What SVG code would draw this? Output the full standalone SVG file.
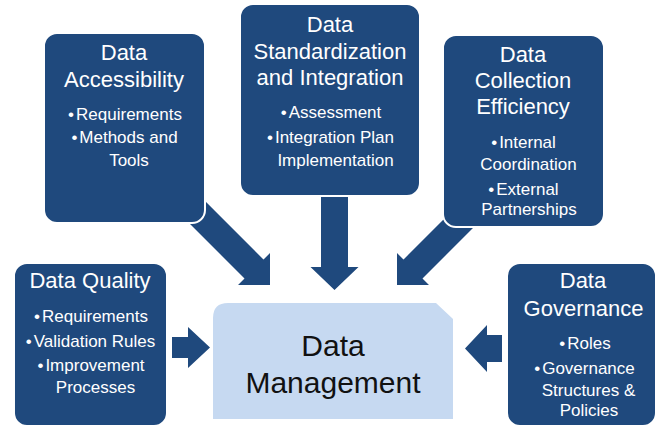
<svg xmlns="http://www.w3.org/2000/svg" width="657" height="427" viewBox="0 0 657 427">
  <style>
    .box { fill: #1F497D; stroke: #ffffff; stroke-width: 2; }
    .arrow { fill: #1F497D; }
    .core { fill: #C6D9F1; }
    text { font-family: "Liberation Sans", Arial, sans-serif; text-anchor: middle; }
    .title { fill: #ffffff; font-size: 22px; }
    .item { fill: #ffffff; font-size: 17px; }
    .core-label { fill: #111111; font-size: 30px; }
  </style>

  <!-- connectors: block arrows pointing into the central node -->
  <g id="connectors">
    <!-- from Data Accessibility (down-right) -->
    <polygon class="arrow" points="192.8,188.8 263.5,259.5 270,253 270,285 238,285 244.5,278.5 173.8,207.8"/>
    <!-- from Data Standardization and Integration (down) -->
    <polygon class="arrow" points="321,190 348,190 348,267 358.5,267 334.5,290 310.5,267 321,267"/>
    <!-- from Data Collection Efficiency (down-left) -->
    <polygon class="arrow" points="493.2,207.8 422.5,278.5 429,285 397,285 397,253 403.5,259.5 474.2,188.8"/>
    <!-- from Data Quality (right) -->
    <polygon class="arrow" points="172,337 188,337 188,327 210,347.5 188,368 188,358 172,358"/>
    <!-- from Data Governance (left) -->
    <polygon class="arrow" points="502,335 487,335 487,325 465,348.5 487,372 487,362 502,362"/>
  </g>

  <g id="data-accessibility">
    <rect class="box" x="44" y="33" width="161" height="190" rx="13"/>
    <text class="title" x="124" y="60">Data</text>
    <text class="title" x="124" y="87">Accessibility</text>
    <text class="item" x="125" y="119.5">•<tspan dx="2">Requirements</tspan></text>
    <text class="item" x="124.5" y="143">•<tspan dx="2">Methods and</tspan></text>
    <text class="item" x="129" y="166">Tools</text>
  </g>

  <g id="data-standardization">
    <rect class="box" x="240" y="4" width="180" height="192" rx="13"/>
    <text class="title" x="330" y="32">Data</text>
    <text class="title" x="330" y="59">Standardization</text>
    <text class="title" x="330" y="85">and Integration</text>
    <text class="item" x="331" y="118">•<tspan dx="2">Assessment</tspan></text>
    <text class="item" x="330.5" y="143">•<tspan dx="2">Integration Plan</tspan></text>
    <text class="item" x="335.5" y="166">Implementation</text>
  </g>

  <g id="data-collection-efficiency">
    <rect class="box" x="443" y="35" width="161" height="192" rx="13"/>
    <text class="title" x="523" y="62">Data</text>
    <text class="title" x="523" y="88">Collection</text>
    <text class="title" x="523" y="114">Efficiency</text>
    <text class="item" x="523.5" y="148">•<tspan dx="2">Internal</tspan></text>
    <text class="item" x="528.5" y="170">Coordination</text>
    <text class="item" x="523.5" y="195">•<tspan dx="2">External</tspan></text>
    <text class="item" x="529" y="215">Partnerships</text>
  </g>

  <g id="data-quality">
    <rect class="box" x="14" y="263" width="153" height="163" rx="13"/>
    <text class="title" x="90" y="288">Data Quality</text>
    <text class="item" x="91" y="322">•<tspan dx="2">Requirements</tspan></text>
    <text class="item" x="90.5" y="347">•<tspan dx="2">Validation Rules</tspan></text>
    <text class="item" x="91" y="371">•<tspan dx="2">Improvement</tspan></text>
    <text class="item" x="95.5" y="393">Processes</text>
  </g>

  <g id="data-governance">
    <rect class="box" x="507" y="263" width="149" height="163" rx="13"/>
    <text class="title" x="583" y="288">Data</text>
    <text class="title" x="583.5" y="316">Governance</text>
    <text class="item" x="585" y="349">•<tspan dx="2">Roles</tspan></text>
    <text class="item" x="584.5" y="374">•<tspan dx="2">Governance</tspan></text>
    <text class="item" x="588.5" y="396">Structures &amp;</text>
    <text class="item" x="589" y="416">Policies</text>
  </g>

  <g id="data-management">
    <path class="core" d="M213,318 Q213,303 228,303 L436,303 L453,319 L453,419 L213,419 Z"/>
    <text class="core-label" x="333" y="356">Data</text>
    <text class="core-label" x="333" y="393">Management</text>
  </g>
</svg>
